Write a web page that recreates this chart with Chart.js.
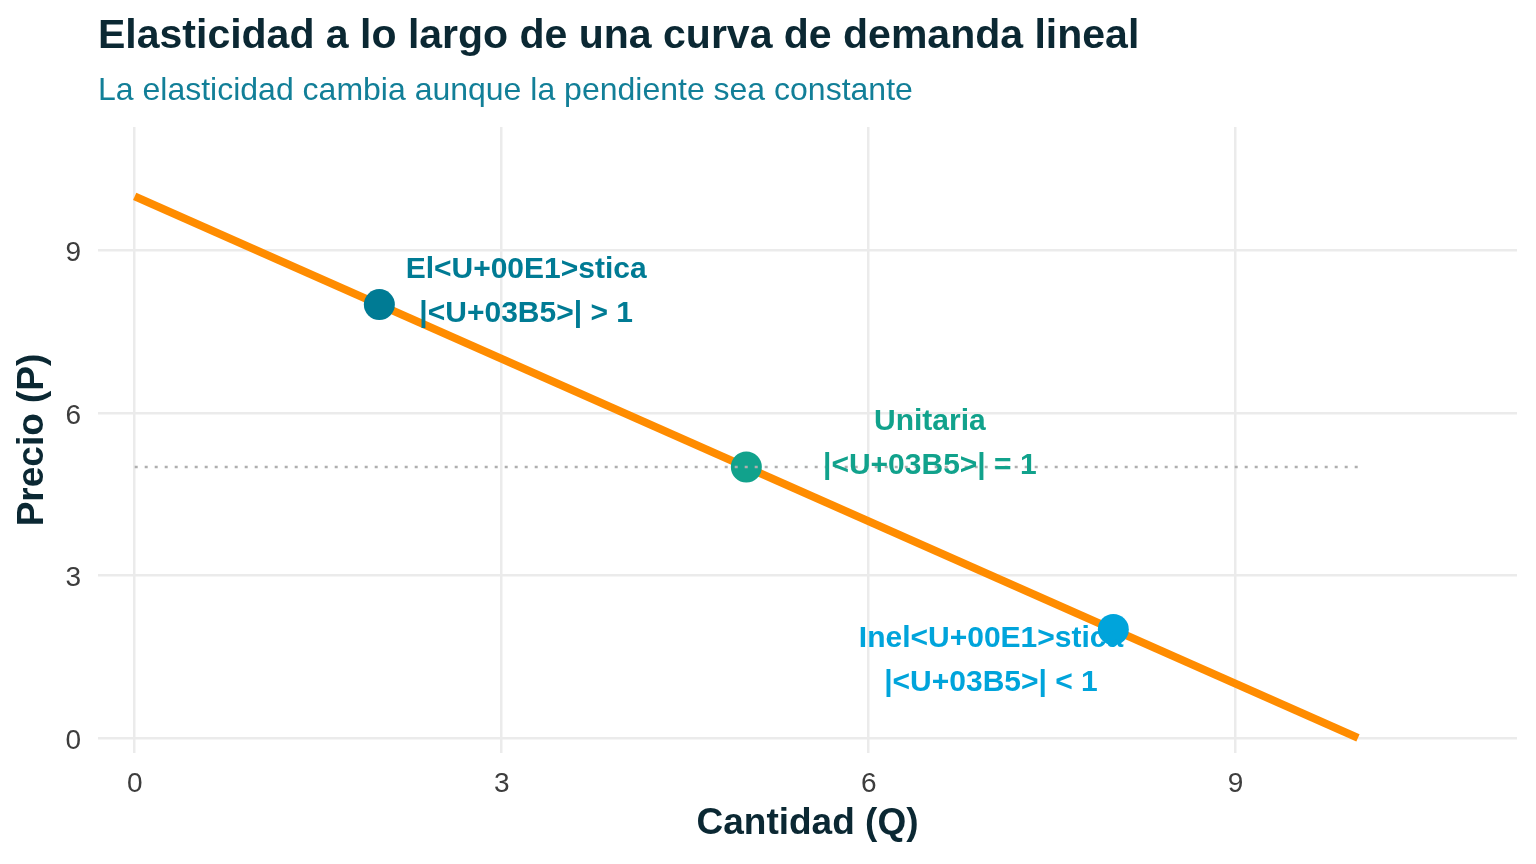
<!DOCTYPE html>
<html>
<head>
<meta charset="utf-8">
<script src="https://cdn.jsdelivr.net/npm/chart.js@4.4.1/dist/chart.umd.min.js"></script>
<style>
html,body{margin:0;padding:0;background:#fff;}
#wrap{width:1536px;height:864px;position:relative;}
</style>
</head>
<body>
<div id="wrap"><canvas id="c" width="1536" height="864"></canvas></div>
<script>
// ---- data ----
const chartTitle = "Elasticidad a lo largo de una curva de demanda lineal";
const chartSubtitle = "La elasticidad cambia aunque la pendiente sea constante";
const xTitle = "Cantidad (Q)";
const yTitle = "Precio (P)";

const demandQ = [0, 10];
const demandP = [10, 0];
const refQ = [0, 10];
const refP = [5, 5];
const pointQ = [2, 5, 8];
const pointP = [8, 5, 2];
const pointColors = ["#007B94", "#11A28C", "#00A4DB"];
const labelQ = [3.2, 6.5, 7.0];
const labelP = [8.23, 5.44, 1.43];
const labelLine1 = ["El<U+00E1>stica", "Unitaria", "Inel<U+00E1>stica"];
const labelLine2 = ["|<U+03B5>| > 1", "|<U+03B5>| = 1", "|<U+03B5>| < 1"];
const xTicks = [0, 3, 6, 9];
const yTicks = [0, 3, 6, 9];

const FONT = "'Liberation Sans', Arial, Helvetica, sans-serif";

const toXY = (xs, ys) => xs.map((x, i) => ({x: x, y: ys[i]}));

const titlePlugin = {
  id: 'titles',
  afterDraw(chart) {
    const ctx = chart.ctx;
    ctx.save();
    ctx.textAlign = 'left';
    ctx.textBaseline = 'alphabetic';
    ctx.fillStyle = '#0B2833';
    ctx.font = "bold 41px " + FONT;
    ctx.fillText(chartTitle, 98, 48);
    ctx.fillStyle = '#127F98';
    ctx.font = "32px " + FONT;
    ctx.fillText(chartSubtitle, 98, 100);
    ctx.restore();
  }
};

const labelPlugin = {
  id: 'labels',
  afterDatasetsDraw(chart) {
    const ctx = chart.ctx;
    const xs = chart.scales.x, ys = chart.scales.y;
    ctx.save();
    ctx.textAlign = 'center';
    ctx.textBaseline = 'middle';
    ctx.font = "bold 30px " + FONT;
    for (let i = 0; i < labelQ.length; i++) {
      const px = xs.getPixelForValue(labelQ[i]);
      const py = ys.getPixelForValue(labelP[i]);
      ctx.fillStyle = pointColors[i];
      ctx.fillText(labelLine1[i], px, py - 22);
      ctx.fillText(labelLine2[i], px, py + 22);
    }
    ctx.restore();
  }
};

new Chart(document.getElementById('c'), {
  type: 'scatter',
  data: {
    datasets: [
      {
        label: 'ref',
        data: toXY(refQ, refP),
        showLine: true,
        borderColor: '#AFAFAF',
        borderWidth: 2.5,
        borderDash: [3, 7],
        pointRadius: 0,
        order: 1
      },
      {
        label: 'puntos',
        data: toXY(pointQ, pointP),
        showLine: false,
        backgroundColor: pointColors,
        borderColor: pointColors,
        borderWidth: 0,
        pointRadius: 15.5,
        order: 2
      },
      {
        label: 'demanda',
        data: toXY(demandQ, demandP),
        showLine: true,
        borderColor: '#FF8C00',
        borderWidth: 8,
        borderCapStyle: 'butt',
        pointRadius: 0,
        order: 3
      }
    ]
  },
  options: {
    responsive: false,
    animation: false,
    devicePixelRatio: 1,
    layout: { padding: { left: 0, top: 127, right: 19, bottom: 0 } },
    plugins: { legend: { display: false }, tooltip: { enabled: false } },
    scales: {
      x: {
        type: 'linear',
        min: -0.3, max: 11.3,
        afterBuildTicks: s => { s.ticks = xTicks.map(v => ({value: v})); },
        afterFit: s => { s.height = 111; },
        grid: { color: '#EBEBEB', lineWidth: 2.5, drawTicks: false },
        border: { display: false },
        ticks: { font: { family: FONT, size: 28 }, color: '#3D3D3D', padding: 14, maxRotation: 0 },
        title: { display: true, text: xTitle, color: '#0B2833', font: { family: FONT, size: 37, weight: 'bold' }, padding: { top: 0, bottom: 18 } }
      },
      y: {
        type: 'linear',
        min: -0.28, max: 11.28,
        afterBuildTicks: s => { s.ticks = yTicks.map(v => ({value: v})); },
        afterFit: s => { s.width = 98; },
        grid: { color: '#EBEBEB', lineWidth: 2.5, drawTicks: false },
        border: { display: false },
        ticks: { font: { family: FONT, size: 28 }, color: '#3D3D3D', padding: 17, labelOffset: 3 },
        title: { display: true, text: yTitle, color: '#0B2833', font: { family: FONT, size: 37, weight: 'bold' }, padding: { top: 11, bottom: 0 } }
      }
    }
  },
  plugins: [labelPlugin, titlePlugin]
});
</script>
</body>
</html>
